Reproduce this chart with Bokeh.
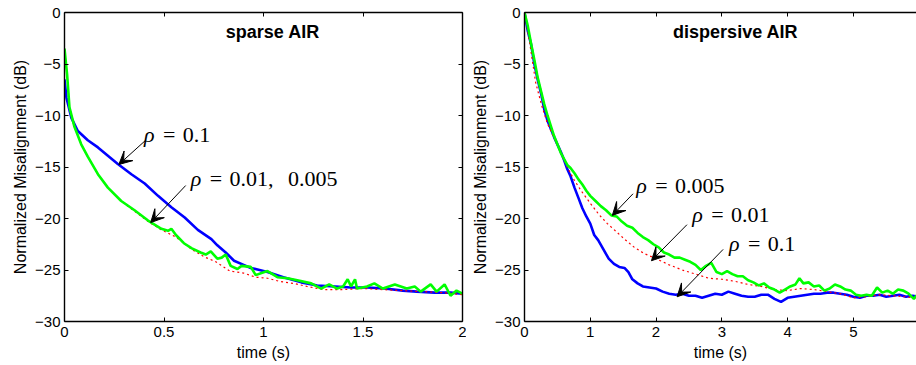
from bokeh.plotting import figure
from bokeh.layouts import row
from bokeh.models import LinearAxis, Arrow, VeeHead, Range1d, FixedTicker, ColumnDataSource
from bokeh.core.properties import value
from bokeh.embed import file_html
from bokeh.resources import INLINE

# ---------------- data: sparse AIR (left) ----------------
sp_blue_t = [0, 0.01, 0.034, 0.067, 0.117, 0.168, 0.218, 0.268, 0.336, 0.403, 0.47, 0.537, 0.604,
             0.67, 0.738, 0.768, 0.81, 0.852, 0.9, 0.936, 0.98, 1.02, 1.1, 1.19, 1.27, 1.36, 1.44,
             1.52, 1.61, 1.7, 1.77, 1.86, 1.94, 2.0]
sp_blue_db = [-6.5, -8.3, -10.2, -11.5, -12.4, -13.1, -13.9, -14.7, -15.7, -16.6, -17.8, -18.9, -19.9,
              -21.1, -22.0, -22.6, -23.3, -24.1, -24.5, -24.8, -25.0, -25.2, -25.7, -26.2, -26.5, -26.6,
              -26.7, -26.7, -26.8, -27.0, -27.1, -27.2, -27.2, -27.3]

sp_red_t = [0, 0.013, 0.025, 0.05, 0.084, 0.117, 0.168, 0.218, 0.285, 0.352, 0.42, 0.487, 0.56, 0.64,
            0.7, 0.76, 0.83, 0.9, 0.96, 1.02, 1.08, 1.15, 1.22, 1.3, 1.4, 1.5, 1.6, 1.7, 1.8, 1.9, 2.0]
sp_red_db = [-3.5, -6.0, -9.2, -11.1, -12.8, -14.0, -15.7, -17.0, -18.3, -19.3, -20.3, -21.1, -21.8,
             -23.0, -23.7, -24.2, -25.1, -25.3, -25.7, -25.8, -26.1, -26.3, -26.6, -26.9, -26.9, -26.8,
             -26.9, -27.0, -27.1, -27.2, -27.4]

sp_green_t = [0, 0.013, 0.025, 0.05, 0.084, 0.117, 0.168, 0.218, 0.285, 0.352, 0.42, 0.487, 0.52, 0.537,
              0.56, 0.6, 0.64, 0.684, 0.71, 0.735, 0.768, 0.79, 0.81, 0.835, 0.869, 0.89, 0.936, 0.961,
              0.99, 1.02, 1.07, 1.12, 1.17, 1.24, 1.29, 1.33, 1.37, 1.4, 1.423, 1.44, 1.46, 1.47, 1.52,
              1.557, 1.6, 1.66, 1.72, 1.76, 1.79, 1.84, 1.87, 1.91, 1.94, 1.97, 2.0]
sp_green_db = [-3.5, -6.0, -9.2, -11.1, -12.8, -14.0, -15.7, -17.0, -18.3, -19.2, -20.2, -21.0, -21.2, -21.0,
               -21.6, -22.4, -22.9, -23.3, -23.5, -23.2, -23.9, -23.8, -23.5, -24.6, -24.9, -24.6, -24.7, -25.5,
               -25.3, -25.1, -25.7, -25.8, -26.0, -26.3, -26.8, -26.4, -26.8, -26.6, -25.9, -26.6, -25.9, -26.8,
               -26.6, -26.3, -26.8, -26.4, -26.8, -26.6, -27.1, -26.4, -27.1, -26.4, -27.5, -27.0, -27.3]

# ---------------- data: dispersive AIR (right) ----------------
dp_blue_t = [0, 0.05, 0.1, 0.15, 0.2, 0.25, 0.3, 0.35, 0.4, 0.45, 0.5, 0.55, 0.6, 0.65, 0.7, 0.76, 0.82,
             0.88, 0.94, 1.0, 1.06, 1.12, 1.2, 1.28, 1.36, 1.44, 1.52, 1.58, 1.64, 1.72, 1.8, 1.9, 2.0,
             2.1, 2.2, 2.3, 2.4, 2.5, 2.6, 2.7, 2.8, 2.9, 3.0, 3.1, 3.2, 3.3, 3.4, 3.5, 3.6, 3.7, 3.8,
             3.9, 4.0, 4.1, 4.2, 4.3, 4.4, 4.5, 4.6, 4.7, 4.8, 4.9, 5.0, 5.1, 5.2, 5.3, 5.4, 5.5, 5.6,
             5.7, 5.8, 5.9, 6.0]
dp_blue_db = [0, -1.8, -3.1, -5.0, -6.5, -7.8, -9.4, -10.5, -11.3, -12.1, -12.8, -13.5, -14.3, -15.2, -15.9,
              -17.0, -18.0, -19.0, -19.8, -20.5, -21.6, -22.1, -23.0, -23.9, -24.4, -24.7, -24.8, -25.2,
              -25.9, -26.3, -26.6, -26.7, -26.8, -27.1, -27.3, -27.4, -27.3, -27.5, -27.5, -27.7, -27.5,
              -27.3, -27.4, -27.1, -27.3, -27.5, -27.6, -27.6, -27.4, -27.4, -27.8, -28.1, -27.7, -27.6,
              -27.5, -27.4, -27.3, -27.3, -27.2, -27.2, -27.3, -27.4, -27.6, -27.7, -27.5, -27.5, -27.4,
              -27.6, -27.5, -27.4, -27.6, -27.5, -27.6]

dp_red_t = [0, 0.08, 0.17, 0.26, 0.35, 0.5, 0.65, 0.75, 0.86, 1.01, 1.13, 1.26, 1.4, 1.52, 1.67, 1.82,
            2.0, 2.2, 2.4, 2.6, 2.8, 3.0, 3.2, 3.4, 3.6, 3.8, 4.0, 4.2, 4.4, 4.6, 4.8, 5.0, 5.2, 5.4,
            5.6, 5.8, 6.0]
dp_red_db = [0, -3.0, -6.8, -9.0, -10.8, -12.9, -15.0, -16.2, -17.3, -18.6, -19.6, -20.5, -21.3, -22.0,
             -22.8, -23.4, -23.9, -24.5, -25.0, -25.4, -25.8, -25.9, -26.1, -26.4, -26.6, -26.9, -27.0,
             -26.8, -26.9, -27.1, -27.3, -27.7, -27.6, -27.4, -27.5, -27.6, -27.8]

dp_green_t = [0, 0.05, 0.1, 0.15, 0.2, 0.25, 0.3, 0.35, 0.4, 0.45, 0.5, 0.55, 0.6, 0.65, 0.7, 0.76, 0.82,
              0.88, 0.94, 1.0, 1.08, 1.16, 1.24, 1.32, 1.4, 1.48, 1.56, 1.64, 1.72, 1.8, 1.88, 1.96, 2.04,
              2.12, 2.2, 2.28, 2.36, 2.44, 2.52, 2.6, 2.68, 2.76, 2.84, 2.92, 3.0, 3.08, 3.16, 3.24, 3.32,
              3.4, 3.48, 3.56, 3.64, 3.72, 3.8, 3.88, 3.96, 4.04, 4.12, 4.18, 4.24, 4.32, 4.4, 4.48, 4.56,
              4.64, 4.72, 4.8, 4.88, 4.96, 5.04, 5.12, 5.2, 5.28, 5.36, 5.44, 5.52, 5.6, 5.68, 5.76, 5.84,
              5.92, 6.0]
dp_green_db = [0, -1.3, -3.0, -4.6, -6.3, -7.6, -8.9, -10.0, -11.0, -12.0, -12.8, -13.6, -14.2, -14.8, -15.1,
               -15.6, -16.2, -16.7, -17.3, -17.8, -18.3, -18.8, -19.2, -19.7, -19.8, -20.3, -20.7, -20.9,
               -21.4, -21.8, -22.1, -22.5, -22.8, -23.3, -23.5, -23.8, -23.8, -24.0, -24.2, -24.5, -25.0,
               -24.6, -24.3, -25.2, -25.4, -25.1, -25.4, -25.6, -25.6, -26.0, -26.2, -26.5, -26.3, -26.7,
               -26.9, -27.2, -26.9, -26.6, -26.4, -25.8, -26.3, -26.2, -26.6, -26.5, -27.0, -26.8, -26.4,
               -26.6, -26.9, -27.0, -27.4, -27.5, -27.4, -27.5, -26.7, -27.2, -27.0, -27.3, -26.9, -27.0,
               -27.3, -27.8, -27.2]

# ---------------- ticks ----------------
y_ticks = [0, -5, -10, -15, -20, -25, -30]
y_tick_labels = ["0", "\u22125", "\u221210", "\u221215", "\u221220", "\u221225", "\u221230"]
sp_x_ticks = [0, 0.5, 1, 1.5, 2]
sp_x_tick_labels = ["0", "0.5", "1", "1.5", "2"]
dp_x_ticks = [0, 1, 2, 3, 4, 5, 6]
dp_x_tick_labels = ["0", "1", "2", "3", "4", "5", "6"]

# ---------------- annotations ----------------
SP = "\u2004"  # thick space, like LaTeX spacing around "="
RHO = "\u03c1"
sp_title = ["sparse AIR"]
sp_title_x = [1.047]
sp_title_y = [-1.94]
sp_ann_text = ["=" + SP + "0.1", "=" + SP + "0.01," + SP + SP + "0.005"]
sp_ann_x = [0.40, 0.634]
sp_ann_y = [-11.8, -16.15]
sp_arr_x0 = [0.408, 0.609]
sp_arr_y0 = [-12.4, -16.8]
sp_arr_x1 = [0.273, 0.433]
sp_arr_y1 = [-14.76, -20.4]

dp_title = ["dispersive AIR"]
dp_title_x = [3.21]
dp_title_y = [-1.85]
dp_ann_text = ["=" + SP + "0.005", "=" + SP + "0.01", "=" + SP + "0.1"]
dp_ann_x = [1.70, 2.55, 3.11]
dp_ann_y = [-16.8, -19.6, -22.4]
dp_arr_x0 = [1.65, 2.47, 3.02]
dp_arr_y0 = [-17.6, -20.6, -23.0]
dp_arr_x1 = [1.335, 1.93, 2.32]
dp_arr_y1 = [-19.7, -24.1, -27.6]

SANS = "Liberation Sans"
SERIF = "Liberation Serif"


def make_panel(width, x_end, xt, xtl, b_left, b_right, right_axis):
    p = figure(width=width, height=365, output_backend="svg", toolbar_location=None,
               x_range=Range1d(0, x_end), y_range=Range1d(-30, 0),
               x_axis_label="time (s)", y_axis_label="Normalized Misalignment (dB)",
               min_border_left=b_left, min_border_right=b_right, min_border_top=12,
               min_border_bottom=44)
    p.outline_line_color = None
    p.xgrid.visible = False
    p.ygrid.visible = False
    p.background_fill_color = "white"
    p.border_fill_color = "white"
    p.xaxis.ticker = FixedTicker(ticks=xt)
    p.xaxis.major_label_overrides = {t: l for t, l in zip(xt, xtl)}
    p.yaxis.ticker = FixedTicker(ticks=y_ticks)
    p.yaxis.major_label_overrides = {t: l for t, l in zip(y_ticks, y_tick_labels)}
    for ax in (p.xaxis[0], p.yaxis[0]):
        ax.major_tick_in = 4
        ax.major_tick_out = 0
        ax.minor_tick_line_color = None
        ax.axis_line_color = "black"
        ax.axis_line_width = 1.4
        ax.major_tick_line_color = "black"
        ax.major_label_text_font = SANS
        ax.major_label_text_font_size = "15px"
        ax.major_label_text_color = "black"
        ax.axis_label_text_font = SANS
        ax.axis_label_text_font_size = "16px"
        ax.axis_label_text_font_style = "normal"
        ax.axis_label_text_color = "black"
    p.xaxis.major_label_standoff = 5
    p.xaxis.axis_label_standoff = 4
    p.yaxis.major_label_standoff = 4
    p.yaxis.axis_label_standoff = 3

    top = LinearAxis(ticker=FixedTicker(ticks=xt), major_label_text_font_size="1px",
                     major_label_text_color=None,
                     major_tick_in=4, major_tick_out=0, major_label_standoff=0,
                     minor_tick_line_color=None, axis_line_width=1.4, axis_line_color="black")
    p.add_layout(top, "above")
    if right_axis:
        rax = LinearAxis(ticker=FixedTicker(ticks=y_ticks), major_label_text_font_size="1px",
                         major_label_text_color=None,
                         major_tick_in=4, major_tick_out=0, major_label_standoff=0,
                         minor_tick_line_color=None, axis_line_width=1.4, axis_line_color="black")
        p.add_layout(rax, "right")
    return p


def draw(p, bt, bd, rt, rd, gt, gd, title, tx, ty, at, ax_, ay, x0, y0, x1, y1):
    p.line(bt, bd, line_color="#0000FF", line_width=2.6)
    p.line(rt, rd, line_color="#FF0000", line_width=1.2, line_dash="2 3")
    p.line(gt, gd, line_color="#00FF00", line_width=2.6)
    p.text(x=tx, y=ty, text=title, text_font=value(SANS), text_font_style="bold",
           text_font_size="18px", text_align="center", text_baseline="middle", text_color="black")
    p.text(x=ax_, y=ay, text=[RHO] * len(ax_), text_font=value(SERIF), text_font_style="italic",
           text_font_size="22px", text_align="left", text_baseline="middle", text_color="black")
    p.text(x=ax_, y=ay, text=at, text_font=value(SERIF), text_font_size="22px", x_offset=19,
           text_align="left", text_baseline="middle", text_color="black")
    src = ColumnDataSource(dict(x0=x0, y0=y0, x1=x1, y1=y1))
    p.add_layout(Arrow(end=VeeHead(size=13, fill_color="black", line_color="black", line_width=1),
                       x_start="x0", y_start="y0", x_end="x1", y_end="y1", source=src,
                       line_color="black", line_width=1))


left = make_panel(466, 2, sp_x_ticks, sp_x_tick_labels, 64, 4, True)
draw(left, sp_blue_t, sp_blue_db, sp_red_t, sp_red_db, sp_green_t, sp_green_db,
     sp_title, sp_title_x, sp_title_y, sp_ann_text, sp_ann_x, sp_ann_y,
     sp_arr_x0, sp_arr_y0, sp_arr_x1, sp_arr_y1)

right = make_panel(450, 5.96, dp_x_ticks, dp_x_tick_labels, 58, 0, False)
draw(right, dp_blue_t, dp_blue_db, dp_red_t, dp_red_db, dp_green_t, dp_green_db,
     dp_title, dp_title_x, dp_title_y, dp_ann_text, dp_ann_x, dp_ann_y,
     dp_arr_x0, dp_arr_y0, dp_arr_x1, dp_arr_y1)

layout = row(left, right, spacing=0)
open("out.html", "w").write(file_html(layout, INLINE))
